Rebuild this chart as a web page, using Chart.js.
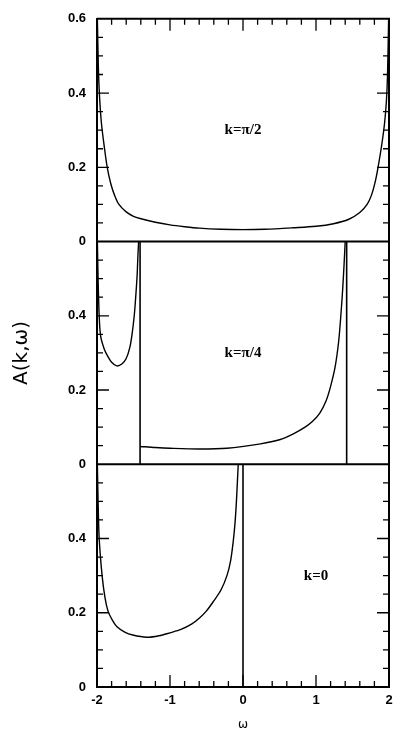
<!DOCTYPE html>
<html>
<head>
<meta charset="utf-8">
<style>
  html, body { margin: 0; padding: 0; background: #fff; }
  canvas { display: block; }
</style>
<script src="https://cdn.jsdelivr.net/npm/chart.js@4"></script>
</head>
<body>
<canvas id="c" width="394" height="732"></canvas>
<script>
// ---- data ----
// panel k = π/2 (top)
const wPi2 = [-1.995,-1.98,-1.965,-1.94,-1.9,-1.86,-1.81,-1.76,-1.7,-1.6,-1.5,-1.41,-1.2,-1.0,-0.8,-0.6,-0.3,0,0.3,0.69,1.0,1.24,1.45,1.6,1.7,1.76,1.81,1.85,1.9,1.94,1.965,1.98,1.995];
const aPi2 = [0.6,0.46,0.39,0.32,0.255,0.2,0.155,0.125,0.1,0.08,0.068,0.062,0.052,0.045,0.04,0.036,0.033,0.032,0.033,0.037,0.041,0.048,0.06,0.078,0.1,0.125,0.16,0.2,0.26,0.32,0.38,0.45,0.6];
// panel k = π/4 (middle)
const wPi4L = [-1.995,-1.985,-1.97,-1.95,-1.9,-1.85,-1.8,-1.73,-1.66,-1.6,-1.55,-1.52,-1.49,-1.47,-1.45,-1.44,-1.43];
const aPi4L = [0.6,0.5,0.4,0.345,0.31,0.29,0.275,0.265,0.27,0.285,0.315,0.35,0.4,0.45,0.51,0.56,0.6];
const wPi4M = [-1.41,-1.2,-1.0,-0.6,-0.22,0.24,0.5,0.69,0.85,0.95,1.05,1.14,1.2,1.26,1.31,1.34,1.365,1.385,1.40];
const aPi4M = [0.048,0.045,0.043,0.041,0.043,0.055,0.066,0.082,0.1,0.115,0.137,0.172,0.21,0.26,0.33,0.4,0.47,0.54,0.6];
const wPi4V = [-1.41, 1.42];          // vertical lines (δ-like peaks)
// panel k = 0 (bottom)
const w0 = [-1.995,-1.985,-1.97,-1.93,-1.89,-1.85,-1.79,-1.73,-1.62,-1.51,-1.32,-1.15,-1.0,-0.85,-0.7,-0.6,-0.5,-0.4,-0.3,-0.22,-0.17,-0.135,-0.11,-0.09,-0.075,-0.065];
const a0 = [0.6,0.5,0.4,0.3,0.24,0.205,0.18,0.163,0.148,0.14,0.134,0.138,0.146,0.155,0.17,0.185,0.205,0.232,0.262,0.3,0.34,0.39,0.44,0.5,0.56,0.6];
const w0V = [0.0];
// axes
const xTicks = [-2,-1,0,1,2];
const yTicks = [0,0.2,0.4,0.6];
const yMax = 0.6;
// panel labels
const panelLabels = ['k=π/2','k=π/4','k=0'];
const labelAt = [[0,0.3],[0,0.3],[1.0,0.3]];
const panelAxes = ['yTop','yMid','yBot'];

const pts = (xs, ys) => xs.map((x,i) => ({x, y: ys[i]}));
const vline = (x) => [{x, y: yMax}, {x, y: 0}];

const curve = (data, axis) => ({data, yAxisID: axis, showLine: true, pointRadius: 0,
  borderColor: '#000', borderWidth: 1.4, tension: 0.3, fill: false});
const straight = (data, axis) => ({data, yAxisID: axis, showLine: true, pointRadius: 0,
  borderColor: '#000', borderWidth: 1.6, tension: 0, fill: false});

const datasets = [
  curve(pts(wPi2, aPi2), 'yTop'),
  curve(pts(wPi4L, aPi4L), 'yMid'),
  curve(pts(wPi4M, aPi4M), 'yMid'),
  ...wPi4V.map(x => straight(vline(x), 'yMid')),
  curve(pts(w0, a0), 'yBot'),
  ...w0V.map(x => straight(vline(x), 'yBot')),
];

const tickFont = {family: 'Liberation Sans', size: 13, weight: 'bold'};

function yScale(showTop, title) {
  return {
    type: 'linear', position: 'left', stack: 'panels', stackWeight: 1, offset: false,
    min: 0, max: yMax,
    afterBuildTicks: s => { s.ticks = yTicks.map(v => ({value: v})); },
    afterFit: s => { s.width = 97; },
    ticks: {
      color: '#000', font: tickFont, padding: 11,
      callback: v => (v === yMax && !showTop) ? '' : String(v)
    },
    grid: {display: false, drawTicks: false},
    border: {display: true, color: '#000', width: 2},
    title: title ? {display: true, text: title, color: '#000',
      font: {family: 'DejaVu Sans', size: 20}, padding: {top: 10, bottom: 0}} : {display: false}
  };
}

const frame = {
  id: 'frame',
  afterDatasetsDraw(chart) {
    const {ctx, chartArea: a, scales} = chart;
    ctx.save();
    ctx.strokeStyle = '#000';
    ctx.lineWidth = 2;
    ctx.beginPath();
    ctx.moveTo(a.left, a.top); ctx.lineTo(a.right, a.top); ctx.lineTo(a.right, a.bottom);
    for (const id of panelAxes) {
      const p = scales[id].getPixelForValue(0);
      ctx.moveTo(a.left, p); ctx.lineTo(a.right, p);
    }
    ctx.stroke();
    // inward ticks
    ctx.lineWidth = 1.3;
    ctx.beginPath();
    for (const id of panelAxes) {
      const s = scales[id];
      for (let i = 1; i < 12; i++) {
        const p = s.getPixelForValue(i * 0.05);
        const len = (i % 4 === 0) ? 12 : 6;
        ctx.moveTo(a.left, p); ctx.lineTo(a.left + len, p);
        ctx.moveTo(a.right, p); ctx.lineTo(a.right - len, p);
      }
    }
    const sx = scales.x;
    for (let i = 1; i < 20; i++) {
      const p = sx.getPixelForValue(-2 + i * 0.2);
      const len = (i % 5 === 0) ? 12 : 6;
      ctx.moveTo(p, a.bottom); ctx.lineTo(p, a.bottom - len);
      ctx.moveTo(p, a.top); ctx.lineTo(p, a.top + len);
    }
    ctx.stroke();
    // panel labels
    ctx.fillStyle = '#000';
    ctx.font = 'bold 15px "Liberation Serif"';
    ctx.textAlign = 'center';
    ctx.textBaseline = 'middle';
    panelLabels.forEach((t, i) => {
      ctx.fillText(t, sx.getPixelForValue(labelAt[i][0]), scales[panelAxes[i]].getPixelForValue(labelAt[i][1]));
    });
    ctx.restore();
  }
};

new Chart(document.getElementById('c'), {
  type: 'scatter',
  data: {datasets},
  options: {
    responsive: false, animation: false, devicePixelRatio: 1,
    layout: {padding: {left: 0, right: 5, top: 17, bottom: 0}},
    plugins: {legend: {display: false}, tooltip: {enabled: false}},
    scales: {
      x: {
        type: 'linear', min: -2, max: 2,
        afterBuildTicks: s => { s.ticks = xTicks.map(v => ({value: v})); },
        afterFit: s => { s.height = 45; s.paddingLeft = 0; s.paddingRight = 0; },
        ticks: {color: '#000', font: tickFont, padding: 6, callback: v => String(v)},
        grid: {display: false, drawTicks: false},
        border: {display: true, color: '#000', width: 2},
        title: {display: true, text: 'ω', color: '#000', font: {family: 'DejaVu Sans', size: 12}, padding: {top: 6, bottom: 0}}
      },
      yBot: yScale(false, null),
      yMid: yScale(false, 'A(k,ω)'),
      yTop: yScale(true, null)
    }
  },
  plugins: [frame]
});
</script>
</body>
</html>
